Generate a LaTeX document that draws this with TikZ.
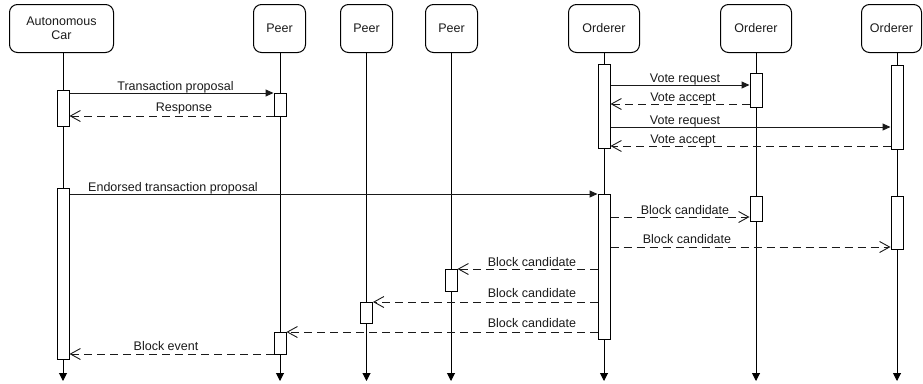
\documentclass[tikz,border=0pt]{standalone}
\usepackage{fontspec}
\setmainfont{Liberation Sans}
\usetikzlibrary{arrows.meta}
\definecolor{txt}{HTML}{1A1A1A}
\definecolor{ln}{HTML}{1A1A1A}
\begin{document}
\begin{tikzpicture}[x=1pt,y=-1pt,
  head/.style={draw=black, rounded corners=8pt, line width=1pt, align=center,
    font=\fontsize{12.5}{13.5}\selectfont, text=txt, anchor=north west, inner sep=0pt},
  act/.style={draw=black, fill=white, minimum width=12pt, inner sep=0pt, line width=1pt},
  life/.style={draw=black, line width=1pt, -{Triangle[length=8pt,width=8pt]}},
  msg/.style={draw=ln, line width=1pt, -{Triangle[length=8pt,width=7pt]}},
  ret/.style={draw=ln, line width=1pt, dash pattern=on 8pt off 5pt,
    -{Straight Barb[length=10pt,width=11pt,line width=0.9pt]}},
  lbl/.style={font=\fontsize{12.5}{14}\selectfont, text=txt, inner sep=0pt, anchor=base}]
\useasboundingbox (0,0) rectangle (923,383);
% header boxes
\node[head, minimum width=104pt, minimum height=48pt] (hcar) at (9,4) {Autonomous\\Car};
\node[head, minimum width=52pt, minimum height=48pt] (hp1) at (253,4) {Peer};
\node[head, minimum width=52pt, minimum height=48pt] (hp2) at (340,4) {Peer};
\node[head, minimum width=52pt, minimum height=48pt] (hp3) at (425,4) {Peer};
\node[head, minimum width=71pt, minimum height=48pt] (ho1) at (568,4) {Orderer};
\node[head, minimum width=71pt, minimum height=48pt] (ho2) at (720,4) {Orderer};
\node[head, minimum width=60pt, minimum height=48pt] (ho3) at (861,4) {Orderer};
% lifeline positions
\coordinate (Lcar) at (63,0);
\coordinate (Lp1) at (280,0);
\coordinate (Lp2) at (366.5,0);
\coordinate (Lp3) at (451,0);
\coordinate (Lo1) at (604,0);
\coordinate (Lo2) at (756,0);
\coordinate (Lo3) at (897,0);
\coordinate (bot) at (0,381);
\foreach \h/\l in {hcar/Lcar,hp1/Lp1,hp2/Lp2,hp3/Lp3,ho1/Lo1,ho2/Lo2,ho3/Lo3}
  \draw[life] (\l |- \h.south) -- (\l |- bot);
% activations
\node[act, minimum height=36pt] (ca1) at (63,108) {};
\node[act, minimum height=171pt] (ca2) at (63,273.5) {};
\node[act, minimum height=23pt] (pa1) at (280,104.5) {};
\node[act, minimum height=22pt] (pa2) at (280,343) {};
\node[act, minimum height=21pt] (qa) at (366.5,312.5) {};
\node[act, minimum height=22pt] (ra) at (451,280) {};
\node[act, minimum height=84pt] (oa1) at (604,106) {};
\node[act, minimum height=145pt] (oa2) at (604,266.5) {};
\node[act, minimum height=34pt] (ob1) at (756,90) {};
\node[act, minimum height=25pt] (ob2) at (756,208.5) {};
\node[act, minimum height=84pt] (oc1) at (897,107) {};
\node[act, minimum height=53pt] (oc2) at (897,222.5) {};
% message levels
\coordinate (m1) at (0,93);
\coordinate (m2) at (0,116);
\coordinate (m3) at (0,85);
\coordinate (m4) at (0,104);
\coordinate (m5) at (0,127);
\coordinate (m6) at (0,146);
\coordinate (m7) at (0,194);
\coordinate (m8) at (0,217);
\coordinate (m9) at (0,247);
\coordinate (m10) at (0,269);
\coordinate (m11) at (0,302);
\coordinate (m12) at (0,332);
\coordinate (m13) at (0,354);
% messages
\draw[msg] (ca1.east |- m1) -- (pa1.west |- m1);
\draw[ret] (pa1.west |- m2) -- (ca1.east |- m2);
\draw[msg] (oa1.east |- m3) -- (ob1.west |- m3);
\draw[ret] (ob1.west |- m4) -- (oa1.east |- m4);
\draw[msg] (oa1.east |- m5) -- (oc1.west |- m5);
\draw[ret] (oc1.west |- m6) -- (oa1.east |- m6);
\draw[msg] (ca2.east |- m7) -- (oa2.west |- m7);
\draw[ret] (oa2.east |- m8) -- (ob2.west |- m8);
\draw[ret] (oa2.east |- m9) -- (oc2.west |- m9);
\draw[ret] (oa2.west |- m10) -- (ra.east |- m10);
\draw[ret] (oa2.west |- m11) -- (qa.east |- m11);
\draw[ret] (oa2.west |- m12) -- (pa2.east |- m12);
\draw[ret] (pa2.west |- m13) -- (ca2.east |- m13);
% labels
\node[lbl] (t1) at (175.5,90) {Transaction proposal};
\node[lbl] (t2) at (184,111) {Response};
\node[lbl] (t3) at (685,82) {Vote request};
\node[lbl] (t4) at (683,101) {Vote accept};
\node[lbl] (t5) at (685,124) {Vote request};
\node[lbl] (t6) at (683,143) {Vote accept};
\node[lbl] (t7) at (173,191) {Endorsed transaction proposal};
\node[lbl] (t8) at (685,214) {Block candidate};
\node[lbl] (t9) at (687,243) {Block candidate};
\node[lbl] (t10) at (532,266) {Block candidate};
\node[lbl] (t11) at (532,297) {Block candidate};
\node[lbl] (t12) at (532,327) {Block candidate};
\node[lbl] (t13) at (166,350) {Block event};
\end{tikzpicture}
\end{document}
